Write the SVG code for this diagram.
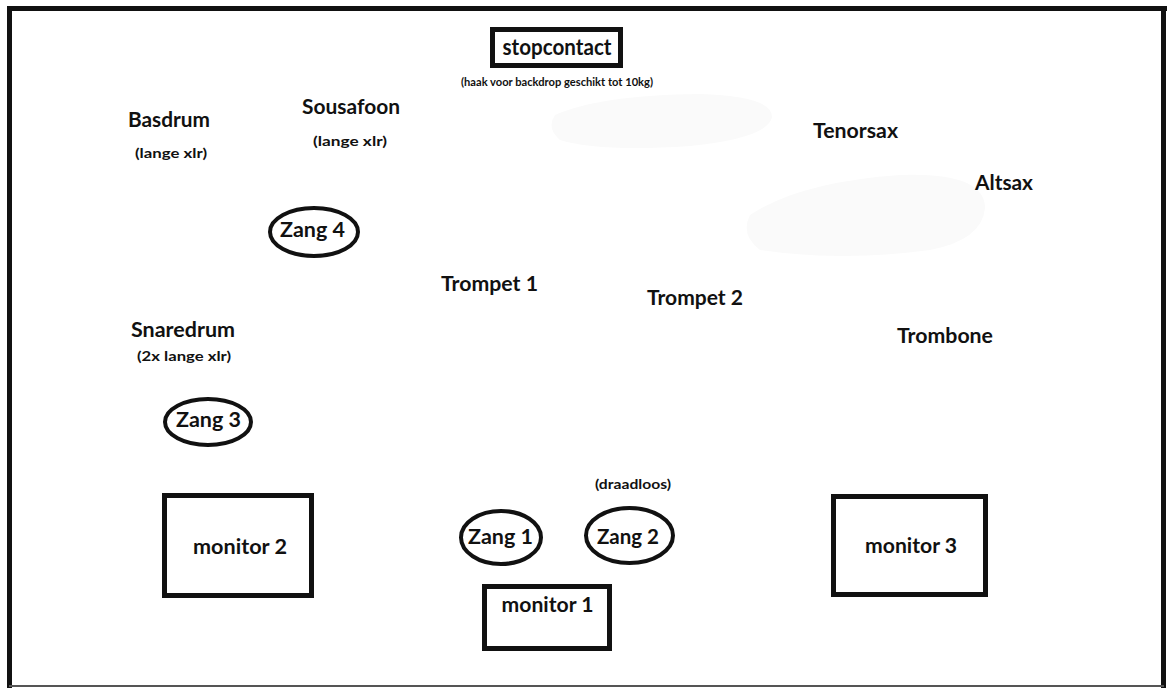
<svg xmlns="http://www.w3.org/2000/svg" width="1172" height="688" viewBox="0 0 1172 688">
<style>
text{font-family:Lato,"Open Sans","Liberation Sans",sans-serif;font-weight:bold;fill:#111;text-anchor:middle}
.l{font-size:20px}
.s{font-size:14px}
.xs{font-size:10.5px}
.box{fill:none;stroke:#111;stroke-width:5}
.ell{fill:none;stroke:#111;stroke-width:4}
.smudge{fill:#fafafa}
</style>
<rect width="1172" height="688" fill="#fff"/>
<path class="smudge" d="M555 115 Q600 95 700 94 Q772 96 772 117 Q768 138 690 146 Q600 152 560 140 Q546 128 555 115 Z"/>
<path class="smudge" d="M750 215 Q800 182 900 175 Q985 172 985 208 Q982 240 930 250 Q840 262 760 250 Q740 235 750 215 Z"/>
<g id="frame">
<line x1="7" y1="8.5" x2="1167" y2="8.5" stroke="#111" stroke-width="5"/>
<line x1="9.5" y1="6" x2="9.5" y2="688" stroke="#111" stroke-width="5"/>
<line x1="1163.5" y1="6" x2="1163.5" y2="688" stroke="#111" stroke-width="5"/>
<line x1="9" y1="686" x2="1164" y2="686" stroke="#555" stroke-width="2"/>
</g>
<g id="connectors"></g>
<g id="stopcontact">
<rect class="box" x="492.5" y="29.5" width="128" height="36"/>
<text x="557" y="55" style="font-size:22px" textLength="109" lengthAdjust="spacingAndGlyphs">stopcontact</text>
<text class="xs" x="557" y="86" textLength="192" lengthAdjust="spacingAndGlyphs">(haak voor backdrop geschikt tot 10kg)</text>
</g>
<g id="basdrum">
<text class="l" x="169" y="127" textLength="82" lengthAdjust="spacingAndGlyphs">Basdrum</text>
<text class="s" x="171" y="158" textLength="72" lengthAdjust="spacingAndGlyphs">(lange xlr)</text>
</g>
<g id="sousafoon">
<text class="l" x="351" y="114" textLength="98" lengthAdjust="spacingAndGlyphs">Sousafoon</text>
<text class="s" x="350" y="146" textLength="74" lengthAdjust="spacingAndGlyphs">(lange xlr)</text>
</g>
<g id="tenorsax"><text class="l" x="855.5" y="138" textLength="85" lengthAdjust="spacingAndGlyphs">Tenorsax</text></g>
<g id="altsax"><text class="l" x="1004" y="190" textLength="58" lengthAdjust="spacingAndGlyphs">Altsax</text></g>
<g id="zang4">
<ellipse class="ell" cx="314" cy="232" rx="44" ry="24"/>
<text class="l" x="312.5" y="237" textLength="65" lengthAdjust="spacingAndGlyphs">Zang 4</text>
</g>
<g id="trompet1"><text class="l" x="489.5" y="291" textLength="97" lengthAdjust="spacingAndGlyphs">Trompet 1</text></g>
<g id="trompet2"><text class="l" x="695" y="305" textLength="96" lengthAdjust="spacingAndGlyphs">Trompet 2</text></g>
<g id="snaredrum">
<text class="l" x="183" y="337" textLength="104" lengthAdjust="spacingAndGlyphs">Snaredrum</text>
<text class="s" x="184" y="361" textLength="94" lengthAdjust="spacingAndGlyphs">(2x lange xlr)</text>
</g>
<g id="trombone"><text class="l" x="945" y="343" textLength="96" lengthAdjust="spacingAndGlyphs">Trombone</text></g>
<g id="zang3">
<ellipse class="ell" cx="208" cy="422" rx="43" ry="23"/>
<text class="l" x="208.5" y="427" textLength="65" lengthAdjust="spacingAndGlyphs">Zang 3</text>
</g>
<g id="draadloos"><text class="s" x="633" y="489" textLength="76" lengthAdjust="spacingAndGlyphs">(draadloos)</text></g>
<g id="monitor2">
<rect class="box" x="164.5" y="495.5" width="147" height="100"/>
<text class="l" x="240" y="554" textLength="94" lengthAdjust="spacingAndGlyphs">monitor 2</text>
</g>
<g id="zang1">
<ellipse class="ell" cx="501" cy="537.5" rx="40" ry="26.5"/>
<text class="l" x="500.5" y="544" textLength="65" lengthAdjust="spacingAndGlyphs">Zang 1</text>
</g>
<g id="zang2">
<ellipse class="ell" cx="629.5" cy="535.5" rx="43.5" ry="27.5"/>
<text class="l" x="628" y="544" textLength="62" lengthAdjust="spacingAndGlyphs">Zang 2</text>
</g>
<g id="monitor1">
<rect class="box" x="484.5" y="586.5" width="125" height="62"/>
<text class="l" x="547.5" y="612" textLength="92" lengthAdjust="spacingAndGlyphs">monitor 1</text>
</g>
<g id="monitor3">
<rect class="box" x="833.5" y="496.5" width="152" height="98"/>
<text class="l" x="911" y="553" textLength="92" lengthAdjust="spacingAndGlyphs">monitor 3</text>
</g>
</svg>
